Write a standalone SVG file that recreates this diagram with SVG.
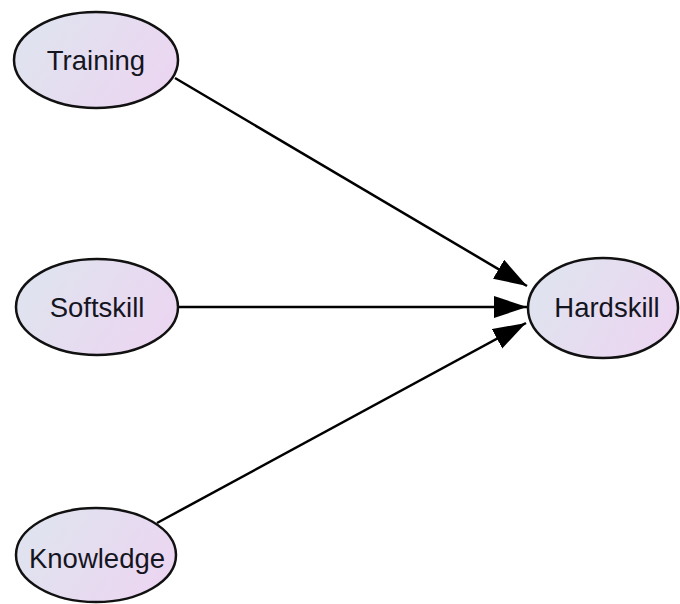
<svg xmlns="http://www.w3.org/2000/svg" width="680" height="604" viewBox="0 0 680 604">
  <defs>
    <linearGradient id="fill" x1="0" y1="0.3" x2="1" y2="0.7">
      <stop offset="0" stop-color="#dfe4ef"/>
      <stop offset="1" stop-color="#ecd5f1"/>
    </linearGradient>
    <marker id="arrow" markerUnits="userSpaceOnUse" markerWidth="36" markerHeight="24" refX="33" refY="11" orient="auto">
      <path d="M0,0 L33,11 L0,22 z" fill="#000"/>
    </marker>
  </defs>
  <style>
    .node ellipse { fill: url(#fill); stroke: #111; stroke-width: 2.5; }
    .node text { font-family: "Liberation Sans", Arial, sans-serif; font-size: 27.5px; fill: #15151f; text-anchor: middle; }
    .edge { stroke: #000; stroke-width: 2.5; fill: none; marker-end: url(#arrow); }
  </style>
  <rect width="680" height="604" fill="#fff"/>
  <g id="connectors">
    <line class="edge" x1="175" y1="78" x2="527" y2="286"/>
    <line class="edge" x1="178" y1="307" x2="527" y2="307"/>
    <line class="edge" x1="157" y1="523" x2="526" y2="323"/>
  </g>
  <g id="training" class="node">
    <ellipse cx="96" cy="60" rx="82" ry="48"/>
    <text x="96" y="70">Training</text>
  </g>
  <g id="softskill" class="node">
    <ellipse cx="97" cy="307" rx="81" ry="48"/>
    <text x="97" y="317">Softskill</text>
  </g>
  <g id="knowledge" class="node">
    <ellipse cx="96" cy="555" rx="80" ry="47"/>
    <text x="97" y="568">Knowledge</text>
  </g>
  <g id="hardskill" class="node">
    <ellipse cx="603" cy="308" rx="75" ry="50"/>
    <text x="607" y="317">Hardskill</text>
  </g>
</svg>
